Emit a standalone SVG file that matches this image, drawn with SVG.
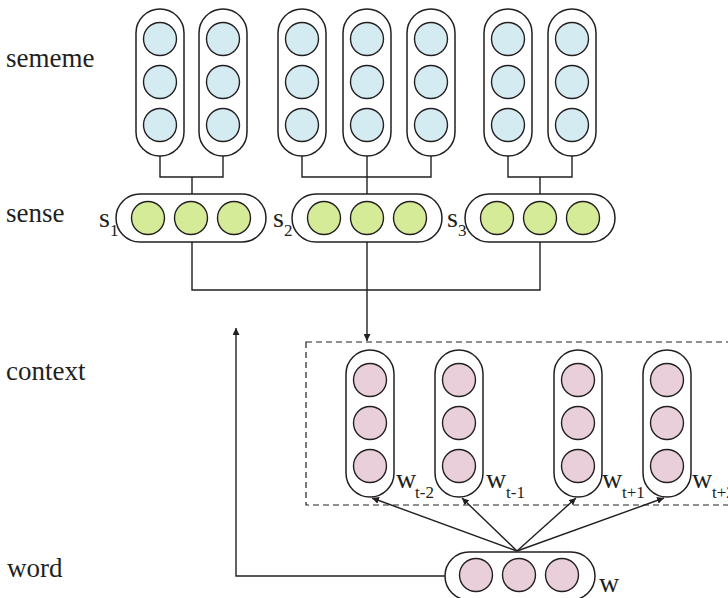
<svg xmlns="http://www.w3.org/2000/svg" width="728" height="598" viewBox="0 0 728 598">
<defs>
<style>
.pill{fill:#fff;stroke:#231f20;stroke-width:1.5}
.b{fill:#d4ebf1;stroke:#231f20;stroke-width:1.4}
.g{fill:#d6eb98;stroke:#231f20;stroke-width:1.4}
.p{fill:#e9cfda;stroke:#231f20;stroke-width:1.4}
.ln{fill:none;stroke:#231f20;stroke-width:1.4}
.lbl{font-family:"Liberation Serif","Times New Roman",serif;font-size:27px;fill:#231f20}
.v{font-family:"Liberation Serif","Times New Roman",serif;font-size:28px;fill:#231f20}
.sub{font-family:"Liberation Serif","Times New Roman",serif;font-size:17px;fill:#231f20}
</style>
<marker id="ah" viewBox="0 0 10 10" refX="10" refY="5" markerWidth="7" markerHeight="7" orient="auto" markerUnits="userSpaceOnUse">
<path d="M0,0 L10,5 L0,10 z" fill="#231f20"/>
</marker>
<g id="sememePill">
<rect x="-24" y="0" width="48" height="147" rx="24" class="pill"/>
<circle cx="0" cy="30" r="16.5" class="b"/>
<circle cx="0" cy="73" r="16.5" class="b"/>
<circle cx="0" cy="116" r="16.5" class="b"/>
</g>
<g id="sensePill">
<rect x="-75" y="0" width="150" height="48" rx="24" class="pill"/>
<circle cx="-43" cy="24" r="16.5" class="g"/>
<circle cx="0" cy="24" r="16.5" class="g"/>
<circle cx="43" cy="24" r="16.5" class="g"/>
</g>
<g id="ctxPill">
<rect x="-24" y="0" width="48" height="147" rx="24" class="pill"/>
<circle cx="0" cy="30" r="16.5" class="p"/>
<circle cx="0" cy="73" r="16.5" class="p"/>
<circle cx="0" cy="116" r="16.5" class="p"/>
</g>
</defs>
<rect width="728" height="598" fill="#fff"/>

<g id="row-labels">
<text class="lbl" x="6" y="67">sememe</text>
<text class="lbl" x="6" y="222">sense</text>
<text class="lbl" x="6" y="380">context</text>
<text class="lbl" x="7" y="577">word</text>
</g>

<g id="context-box">
<rect x="306" y="342" width="440" height="163" fill="none" stroke="#231f20" stroke-width="1.2" stroke-dasharray="6,4"/>
</g>

<g id="connectors">
<path class="ln" d="M160 156 V177 H223 V156 M192 177 V194"/>
<path class="ln" d="M302 156 V177 H431 V156 M367 156 V194"/>
<path class="ln" d="M508 156 V177 H572 V156 M540 177 V194"/>
<path class="ln" d="M192 242 V290 H540 V242"/>
<path class="ln" d="M367 242 V341" marker-end="url(#ah)"/>
<path class="ln" d="M517 551 L372 498" marker-end="url(#ah)"/>
<path class="ln" d="M517 551 L462 498" marker-end="url(#ah)"/>
<path class="ln" d="M517 551 L576 498" marker-end="url(#ah)"/>
<path class="ln" d="M517 551 L664 498" marker-end="url(#ah)"/>
<path class="ln" d="M445 576 H236 V328" marker-end="url(#ah)"/>
</g>

<g id="sememe-1"><use href="#sememePill" x="160" y="9"/></g>
<g id="sememe-2"><use href="#sememePill" x="223" y="9"/></g>
<g id="sememe-3"><use href="#sememePill" x="302" y="9"/></g>
<g id="sememe-4"><use href="#sememePill" x="367" y="9"/></g>
<g id="sememe-5"><use href="#sememePill" x="431" y="9"/></g>
<g id="sememe-6"><use href="#sememePill" x="508" y="9"/></g>
<g id="sememe-7"><use href="#sememePill" x="572" y="9"/></g>

<g id="sense-s1"><use href="#sensePill" x="191" y="194"/>
<text class="v" x="99" y="227">s</text><text class="sub" x="110" y="236">1</text></g>
<g id="sense-s2"><use href="#sensePill" x="367" y="194"/>
<text class="v" x="273" y="227">s</text><text class="sub" x="284" y="236">2</text></g>
<g id="sense-s3"><use href="#sensePill" x="540" y="194"/>
<text class="v" x="447" y="227">s</text><text class="sub" x="458" y="236">3</text></g>

<g id="ctx-wt-2"><use href="#ctxPill" x="370" y="350"/>
<text class="v" x="396" y="488">w</text><text class="sub" x="415" y="498">t-2</text></g>
<g id="ctx-wt-1"><use href="#ctxPill" x="459" y="350"/>
<text class="v" x="486" y="488">w</text><text class="sub" x="506" y="498">t-1</text></g>
<g id="ctx-wt+1"><use href="#ctxPill" x="578" y="350"/>
<text class="v" x="602" y="488">w</text><text class="sub" x="622" y="498">t+1</text></g>
<g id="ctx-wt+2"><use href="#ctxPill" x="667" y="350"/>
<text class="v" x="692" y="488">w</text><text class="sub" x="712" y="498">t+2</text></g>

<g id="word-w">
<rect x="445" y="552" width="150" height="48" rx="24" class="pill"/>
<circle cx="476" cy="575" r="16.5" class="p"/>
<circle cx="519" cy="575" r="16.5" class="p"/>
<circle cx="562" cy="575" r="16.5" class="p"/>
<text class="v" x="599" y="592">w</text>
</g>
</svg>
